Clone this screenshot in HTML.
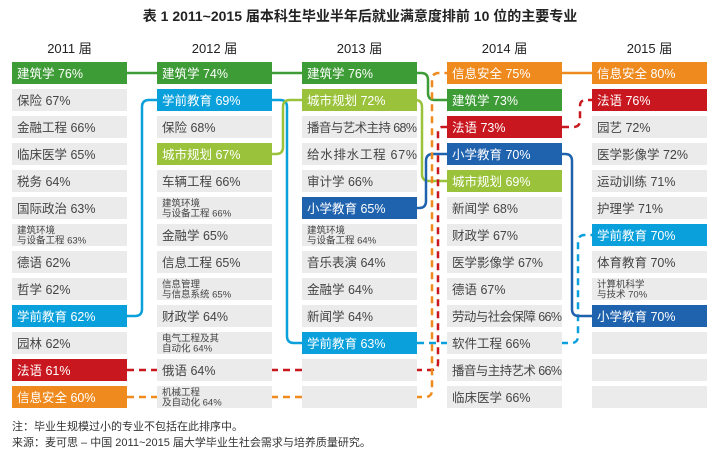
<!DOCTYPE html>
<html><head><meta charset="utf-8"><style>
body{margin:0;background:#fff;}
svg text{font-family:"Liberation Sans","Noto Sans CJK SC",sans-serif;}
</style></head><body>
<svg id="c" width="718" height="459" viewBox="0 0 718 459" xmlns="http://www.w3.org/2000/svg">
<text x="360" y="21" text-anchor="middle" font-size="14" font-weight="bold" fill="#222">表 1 2011~2015 届本科生毕业半年后就业满意度排前 10 位的主要专业</text>
<g id="lines"></g><g id="boxes"></g>
<text x="12" y="430" font-size="11" fill="#333">注：毕业生规模过小的专业不包括在此排序中。</text>
<text x="12" y="446" font-size="11" fill="#333">来源：麦可思 – 中国 2011~2015 届大学毕业生社会需求与培养质量研究。</text>
</svg>
<script>
const years=["2011 届","2012 届","2013 届","2014 届","2015 届"];
const col2011=[["建筑学 76%","g"],["保险 67%"],["金融工程 66%"],["临床医学 65%"],["税务 64%"],["国际政治 63%"],["建筑环境|与设备工程 63%"],["德语 62%"],["哲学 62%"],["学前教育 62%","c"],["园林 62%"],["法语 61%","r"],["信息安全 60%","o"]];
const col2012=[["建筑学 74%","g"],["学前教育 69%","c"],["保险 68%"],["城市规划 67%","l"],["车辆工程 66%"],["建筑环境|与设备工程 66%"],["金融学 65%"],["信息工程 65%"],["信息管理|与信息系统 65%"],["财政学 64%"],["电气工程及其|自动化 64%"],["俄语 64%"],["机械工程|及自动化 64%"]];
const col2013=[["建筑学 76%","g"],["城市规划 72%","l"],["播音与艺术主持 68%"],["给水排水工程 67%"],["审计学 66%"],["小学教育 65%","b"],["建筑环境|与设备工程 64%"],["音乐表演 64%"],["金融学 64%"],["新闻学 64%"],["学前教育 63%","c"],[""],[""]];
const col2014=[["信息安全 75%","o"],["建筑学 73%","g"],["法语 73%","r"],["小学教育 70%","b"],["城市规划 69%","l"],["新闻学 68%"],["财政学 67%"],["医学影像学 67%"],["德语 67%"],["劳动与社会保障 66%"],["软件工程 66%"],["播音与主持艺术 66%"],["临床医学 66%"]];
const col2015=[["信息安全 80%","o"],["法语 76%","r"],["园艺 72%"],["医学影像学 72%"],["运动训练 71%"],["护理学 71%"],["学前教育 70%","c"],["体育教育 70%"],["计算机科学|与技术 70%"],["小学教育 70%","b"],[""],[""],[""]];
const cols=[col2011,col2012,col2013,col2014,col2015];
const colors={g:"#3e9c37",l:"#9ac23b",c:"#0aa0dc",b:"#1f62ad",r:"#c9171f",o:"#ef8a1e"};
const NS="http://www.w3.org/2000/svg";
const X=i=>12+145*i, W=115, Y=r=>62+27*r, H=22, C=r=>Y(r)+11;
function rp(p,rad){let d=`M${p[0][0]},${p[0][1]}`;for(let i=1;i<p.length-1;i++){const [ax,ay]=p[i-1],[bx,by]=p[i],[cx,cy]=p[i+1];const l1=Math.hypot(bx-ax,by-ay),l2=Math.hypot(cx-bx,cy-by);const r1=Math.min(rad,l1/2,l2/2);const sx=bx-(bx-ax)/l1*r1,sy=by-(by-ay)/l1*r1,ex=bx+(cx-bx)/l2*r1,ey=by+(cy-by)/l2*r1;d+=` L${sx},${sy} Q${bx},${by} ${ex},${ey}`;}const q=p[p.length-1];return d+` L${q[0]},${q[1]}`;}
const L=document.getElementById('lines');
function seg(name,col,pts,dash){const p=document.createElementNS(NS,'path');p.setAttribute('d',rp(pts,7));p.setAttribute('stroke',colors[col]);p.setAttribute('stroke-width','2.5');p.setAttribute('fill','none');if(dash)p.setAttribute('stroke-dasharray','7,5');


L.appendChild(p);}
seg('architecture-line','g',[[70,C(0)],[428,C(0)],[428,C(1)],[500,C(1)]]);
seg('preschool-line-a','c',[[70,C(9)],[142,C(9)],[142,C(1)],[215,C(1)]]);
seg('preschool-line-b','c',[[215,C(1)],[287,C(1)],[287,C(10)],[360,C(10)]]);
seg('preschool-line-c','c',[[417,C(10)],[578,C(10)],[578,C(6)],[592,C(6)]],true);
seg('urban-planning-line-a','l',[[215,C(3)],[283,C(3)],[283,C(1)],[360,C(1)]]);
seg('urban-planning-line-b','l',[[360,C(1)],[422,C(1)],[422,C(4)],[500,C(4)]]);
seg('primary-edu-line-a','b',[[360,C(5)],[426,C(5)],[426,C(3)],[500,C(3)]]);
seg('primary-edu-line-b','b',[[500,C(3)],[572,C(3)],[572,C(9)],[650,C(9)]]);
seg('french-line-a','r',[[127,C(11)],[438,C(11)],[438,C(2)],[447,C(2)]],true);
seg('french-line-b','r',[[562,C(2)],[580,C(2)],[580,C(1)],[592,C(1)]],true);
seg('infosec-line-a','o',[[127,C(12)],[432,C(12)],[432,C(0)],[447,C(0)]],true);
seg('infosec-line-b','o',[[500,C(0)],[650,C(0)]]);
const B=document.getElementById('boxes');
years.forEach((y,i)=>{const t=document.createElementNS(NS,'text');t.setAttribute('x',X(i)+W/2);t.setAttribute('y',53);t.setAttribute('text-anchor','middle');t.setAttribute('font-size','13');t.setAttribute('fill','#222');t.textContent=y;


B.appendChild(t);
cols[i].forEach((it,r)=>{const g=document.createElementNS(NS,'g');


const rect=document.createElementNS(NS,'rect');rect.setAttribute('x',X(i));rect.setAttribute('y',Y(r));rect.setAttribute('width',W);rect.setAttribute('height',H);rect.setAttribute('fill',it[1]?colors[it[1]]:'#ebebeb');g.appendChild(rect);
const fc=it[1]?'#fff':'#444';const parts=it[0].split('|');
parts.forEach((s,k)=>{const t=document.createElementNS(NS,'text');t.setAttribute('x',X(i)+5);t.setAttribute('fill',fc);
if(parts.length>1){t.setAttribute('font-size','9.5');t.setAttribute('y',Y(r)+9.5+k*10);}else{t.setAttribute('font-size','12.5');t.setAttribute('y',Y(r)+16);if(s.length>9)t.setAttribute('textLength','110');}
t.textContent=s;g.appendChild(t);});
B.appendChild(g);});});
</script>
</body></html>
